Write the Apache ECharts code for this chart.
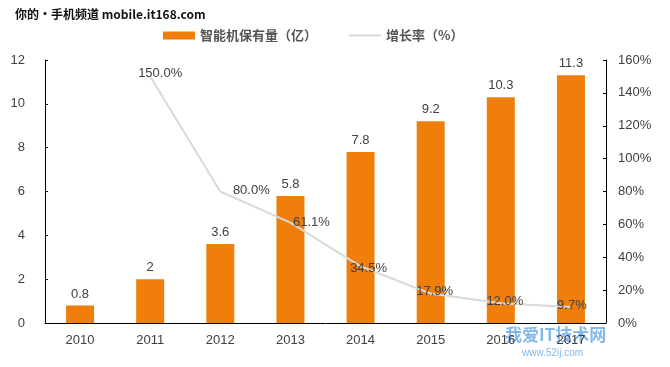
<!DOCTYPE html>
<html><head><meta charset="utf-8">
<script src="https://cdn.jsdelivr.net/npm/echarts@6/dist/echarts.min.js"></script>
<style>html,body{margin:0;padding:0;background:#fff}#c{width:670px;height:367px}</style>
</head><body><div id="c"></div>
<script>
const categories = ['2010','2011','2012','2013','2014','2015','2016','2017'];
const ownership = [0.8, 2, 3.6, 5.8, 7.8, 9.2, 10.3, 11.3];
const growth = [null, 150.0, 80.0, 61.1, 34.5, 17.9, 12.0, 9.7];
const leftTicks = {min: 0, max: 12, interval: 2};
const rightTicks = {min: 0, max: 160, interval: 20};

const labelOffsets = [[0,0],[10,-3],[31,-1],[21,0],[8,2],[4,-2],[4,-2],[1,-2]];

const chart = echarts.init(document.getElementById('c'), null, {renderer: 'canvas'});
const txt = '#404040';
chart.setOption({
  animation: false,
  backgroundColor: '#fff',
  textStyle: {fontFamily: 'Liberation Sans, Arial, sans-serif'},
  grid: {left: 45, right: 64, top: 60, bottom: 44},
  legend: {
    top: 24, left: 158, itemGap: 32, itemWidth: 32, itemHeight: 8,
    textStyle: {color: '#555', fontSize: 13, fontFamily: 'Noto Sans CJK SC', fontWeight: 'bold'},
    data: [
      {name: '智能机保有量（亿）', icon: 'rect'},
      {name: '增长率（%）', icon: 'path://M0,0L32,0L32,2L0,2Z', itemStyle: {color: '#d9d9d9', opacity: 1}}
    ]
  },
  graphic: [
    {type: 'text', left: 15, top: 8, style: {text: '你的·手机频道 mobile.it168.com', fill: '#111', font: 'bold 12px Noto Sans CJK SC'}},
    {type: 'text', left: 505, top: 326, style: {text: '我爱IT技术网', fill: 'rgba(90,160,225,0.75)', font: 'bold 17px Noto Sans CJK SC'}},
    {type: 'text', left: 522, top: 348, style: {text: 'www.52ij.com', fill: 'rgba(90,160,225,0.75)', font: '10px Liberation Sans'}}
  ],
  xAxis: {
    type: 'category', data: categories,
    axisLine: {lineStyle: {color: '#000', width: 1}},
    axisTick: {inside: true, length: 4, lineStyle: {color: '#000'}},
    axisLabel: {color: txt, fontSize: 13, margin: 11}
  },
  yAxis: [
    {type: 'value', min: leftTicks.min, max: leftTicks.max, interval: leftTicks.interval,
      splitLine: {show: false},
      axisLine: {show: true, lineStyle: {color: '#000'}},
      axisTick: {show: true, inside: true, length: 3, lineStyle: {color: '#000'}},
      axisLabel: {color: txt, fontSize: 13, margin: 20}},
    {type: 'value', min: rightTicks.min, max: rightTicks.max, interval: rightTicks.interval,
      position: 'right', splitLine: {show: false},
      axisLine: {show: true, lineStyle: {color: '#000'}},
      axisTick: {show: true, inside: true, length: 3, lineStyle: {color: '#000'}},
      axisLabel: {color: txt, fontSize: 13, margin: 12, formatter: '{value}%'}}
  ],
  series: [
    {name: '智能机保有量（亿）', type: 'bar', data: ownership, barWidth: 28,
      itemStyle: {color: '#ef7f0a'},
      label: {show: true, position: 'top', color: txt, fontSize: 13, distance: 5}},
    {name: '增长率（%）', type: 'line', yAxisIndex: 1, z: 5,
      data: growth.map((v, i) => v == null ? '-' : {value: v, label: {offset: labelOffsets[i]}}),
      symbol: 'circle', symbolSize: 0, showSymbol: true,
      lineStyle: {color: '#d9d9d9', width: 2}, itemStyle: {color: '#d9d9d9'},
      label: {show: true, position: 'inside', color: txt, fontSize: 13,
        formatter: p => (typeof p.value === 'number') ? p.value.toFixed(1) + '%' : ''}}
  ]
});
</script></body></html>
